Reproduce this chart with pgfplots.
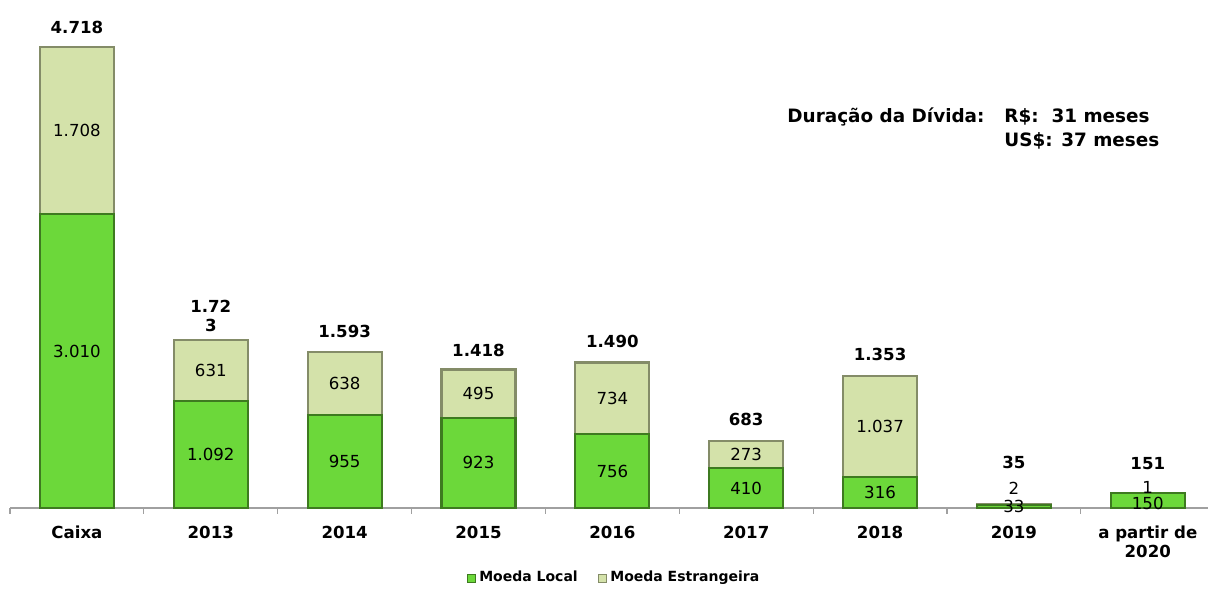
\documentclass[border=0pt]{standalone}
\usepackage{pgfplots}
\pgfplotsset{compat=1.18}
\usepackage{pgfplotstable}
\usepackage{fontspec}
\setmainfont{DejaVu Sans}

\definecolor{localfill}{RGB}{108,216,58}
\definecolor{localedge}{RGB}{62,122,32}
\definecolor{forfill}{RGB}{212,226,170}
\definecolor{foredge}{RGB}{132,140,104}
\definecolor{axisgray}{RGB}{160,160,160}

% loc = moeda local, for = moeda estrangeira; *dy = label nudges in pt
\pgfplotstableread{
x loc for loclbl forlbl totlbl locdy fordy totdy
0 3010 1708 3.010 1.708 4.718 5 0 10
1 1092 631 1.092 631 {1.72\\3} 0 0 12
2 955 638 955 638 1.593 0 0 10.5
3 923 495 923 495 1.418 0 0 9.5
4 756 734 756 734 1.490 0 0 10.5
5 410 273 410 273 683 0 0 11
6 316 1037 316 1.037 1.353 0 0 10.5
7 33 2 33 2 35 0 8 21
8 150 1 150 1 151 -1.5 3 15
}\divida

\pgfplotsset{
  base/.style={
    at={(5pt,40pt)}, anchor=south west,
    scale only axis,
    width=599pt, height=254pt,
    xmin=-0.5, xmax=8.45,
    ymin=0, ymax=5200,
    clip=false,
  },
  lbl/.style={draw=none, mark=none, forget plot,
    nodes near coords, point meta=explicit symbolic,
    visualization depends on={\thisrow{#1} \as \dy},
    every node near coord/.append style={anchor=center, text=black, align=center,
        font=\fontsize{8.3}{9.5}\selectfont, yshift=\dy pt}},
}

\begin{document}
\begin{tikzpicture}
\useasboundingbox (0,0) rectangle (604pt,294pt);
\begin{axis}[
    base,
    ybar stacked,
    bar width=37pt,
    axis x line*=bottom,
    axis y line=none,
    x axis line style={axisgray, line width=0.6pt},
    xtick={0,...,8},
    xticklabels={Caixa,2013,2014,2015,2016,2017,2018,2019,{a partir de\\2020}},
    major tick length=0pt,
    minor xtick={-0.5,0.5,...,8.5},
    minor tick length=3pt,
    tick align=outside,
    minor tick style={axisgray, line width=0.6pt},
    xticklabel style={font=\bfseries\fontsize{8.3}{9.5}\selectfont, align=center, yshift=-5.5pt},
    legend style={at={(0.505,-0.138)}, anchor=center, draw=none, fill=none,
        font=\bfseries\fontsize{7}{8}\selectfont, legend columns=2,
        /tikz/every even column/.append style={column sep=8pt}},
    legend image code/.code={\draw[#1, line width=0.3pt] (0pt,-2pt) rectangle (4pt,2pt);},
]
\addplot[fill=localfill, draw=localedge, line width=1.1pt]
    table[x=x, y=loc]{\divida};
\addlegendentry{Moeda Local}
\addplot[fill=forfill, draw=foredge, line width=1.1pt]
    table[x=x, y=for]{\divida};
\addlegendentry{Moeda Estrangeira}

\node[anchor=west, font=\bfseries\fontsize{9.2}{10}\selectfont, inner sep=0pt]
    at (rel axis cs:0.6486,0.7697) {Duração da Dívida:};
\node[anchor=west, font=\bfseries\fontsize{9.2}{10}\selectfont, inner sep=0pt]
    at (rel axis cs:0.8297,0.7697) {R\$:~~31 meses};
\node[anchor=west, font=\bfseries\fontsize{9.2}{10}\selectfont, inner sep=0pt]
    at (rel axis cs:0.8297,0.7224) {US\$: 37 meses};
\end{axis}

% value labels, same geometry, not stacked
\begin{axis}[base, hide axis]
\addplot[lbl=locdy] table[x=x, y expr=\thisrow{loc}/2, meta=loclbl]{\divida};
\addplot[lbl=fordy] table[x=x, y expr=\thisrow{loc}+\thisrow{for}/2, meta=forlbl]{\divida};
\addplot[lbl=totdy, every node near coord/.append style={font=\bfseries\fontsize{8.3}{9.5}\selectfont}]
    table[x=x, y expr=\thisrow{loc}+\thisrow{for}, meta=totlbl]{\divida};
\end{axis}
\end{tikzpicture}
\end{document}
